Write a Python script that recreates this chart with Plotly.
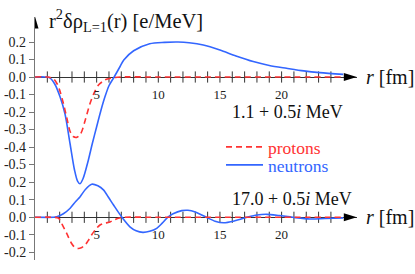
import plotly.graph_objects as go

W, H = 415, 274

# ---------------- data ----------------
# upper panel: 1.1 + 0.5i MeV
r_top_p = [0, 1.0, 1.5, 1.8, 2.0, 2.3, 2.6, 2.84, 3.1, 3.38, 3.6, 3.8, 4.1, 4.47, 4.8, 5.15, 5.5, 5.8, 6.5, 7.0, 10, 15, 20, 25]
top_protons = [0, 0, -0.01, -0.04, -0.075, -0.15, -0.24, -0.31, -0.34, -0.345, -0.335, -0.31, -0.24, -0.15, -0.09, -0.046, -0.025, -0.013, -0.003, 0, 0, 0, 0, 0]

r_top_n = [0, 0.8, 1.2, 1.6, 2.03, 2.43, 2.84, 3.2, 3.45, 3.65, 3.9, 4.33, 4.65, 5.0, 5.35, 5.68, 6.0, 6.42, 6.9, 7.2, 8.0, 9.3, 10.5, 11.6, 12.5, 13.65, 15.0, 16.3, 17.7, 19.0, 20.4, 21.8, 23.1, 25.0]
top_neutrons = [0, 0, -0.005, -0.04, -0.113, -0.21, -0.38, -0.53, -0.595, -0.61, -0.58, -0.474, -0.38, -0.284, -0.19, -0.112, -0.05, 0, 0.06, 0.097, 0.15, 0.19, 0.198, 0.2, 0.196, 0.183, 0.154, 0.12, 0.088, 0.066, 0.05, 0.035, 0.025, 0.015]

# lower panel: 17.0 + 0.5i MeV
r_bot_p = [0, 1.5, 1.9, 2.2, 2.57, 2.97, 3.2, 3.5, 3.8, 4.05, 4.3, 4.6, 4.9, 5.27, 5.7, 6.08, 6.4, 6.76, 7.2, 10, 15, 20, 25]
bot_protons = [0, 0, -0.005, -0.04, -0.092, -0.15, -0.17, -0.178, -0.172, -0.16, -0.135, -0.10, -0.07, -0.044, -0.033, -0.027, -0.015, -0.006, 0, 0, 0, 0, 0]

r_bot_n = [0, 1.5, 1.76, 2.3, 2.85, 3.3, 3.66, 4.1, 4.6, 5.1, 5.55, 6.0, 6.37, 7.05, 7.72, 8.2, 8.75, 9.3, 9.87, 10.3, 10.76, 11.2, 11.9, 12.4, 13.0, 13.9, 14.6, 15.3, 16.2, 17.2, 18.0, 18.8, 19.8, 20.9, 22.3, 23.5, 25.0]
bot_neutrons = [0, 0, 0.003, 0.02, 0.052, 0.09, 0.118, 0.16, 0.189, 0.18, 0.157, 0.11, 0.07, 0, -0.056, -0.077, -0.086, -0.08, -0.063, -0.035, 0, 0.02, 0.038, 0.04, 0.03, 0, -0.022, -0.031, -0.02, 0, 0.013, 0.017, 0.01, 0, -0.01, -0.007, -0.003]

tick_r = list(range(1, 25))
xlabel_vals = [5, 10, 15, 20]
ytick_top = [-0.5, -0.4, -0.3, -0.2, -0.1, 0.0, 0.1, 0.2]
ytick_bot = [-0.2, -0.1, 0.0, 0.1, 0.2]

# ---------------- styling / layout ----------------
RED = "#ff3333"
BLUE = "#3366ff"
AX = "#333333"
YAXC = "#777777"
FONT = "Liberation Serif"


def px_x(p):
    return p / W


def px_y(p):
    return 1 - p / H


X0 = 35.0
XPU = 12.33
x_tip = 26.1
x_end_px = X0 + XPU * x_tip

Y0_top = 77.0
Y0_bot = 217.3
YPU = 175.0
ytop_px = 16.5
ybot_px = 260.0
top_range = [-(ybot_px - Y0_top) / YPU, (Y0_top - ytop_px) / YPU]
shift = (Y0_bot - Y0_top) / YPU
bot_range = [top_range[0] + shift, top_range[1] + shift]

fig = go.Figure()

tick_marker = dict(symbol="line-ns", size=8, line=dict(width=1, color=AX))
fig.add_trace(go.Scatter(x=tick_r, y=[0] * len(tick_r), mode="markers", marker=tick_marker,
                         xaxis="x", yaxis="y", showlegend=False, hoverinfo="skip"))
fig.add_trace(go.Scatter(x=tick_r, y=[0] * len(tick_r), mode="markers", marker=tick_marker,
                         xaxis="x2", yaxis="y2", showlegend=False, hoverinfo="skip"))

fig.add_trace(go.Scatter(x=r_top_n, y=top_neutrons, mode="lines", name="neutrons",
                         line=dict(color=BLUE, width=1.6, shape="spline", smoothing=0.8),
                         xaxis="x", yaxis="y", legend="legend2"))
fig.add_trace(go.Scatter(x=r_top_p, y=top_protons, mode="lines", name="protons",
                         line=dict(color=RED, width=1.6, dash="6px,4px", shape="spline", smoothing=0.8),
                         xaxis="x", yaxis="y", legend="legend"))
fig.add_trace(go.Scatter(x=r_bot_n, y=bot_neutrons, mode="lines", showlegend=False,
                         line=dict(color=BLUE, width=1.6, shape="spline", smoothing=0.8),
                         xaxis="x2", yaxis="y2"))
fig.add_trace(go.Scatter(x=r_bot_p, y=bot_protons, mode="lines", showlegend=False,
                         line=dict(color=RED, width=1.6, dash="6px,4px", shape="spline", smoothing=0.8),
                         xaxis="x2", yaxis="y2"))

xcommon = dict(domain=[px_x(X0), px_x(x_end_px)], range=[0, x_tip], anchor="free",
               tickvals=xlabel_vals, ticktext=[str(v) for v in xlabel_vals],
               ticks="outside", ticklen=5, tickcolor="rgba(0,0,0,0)",
               showgrid=False, zeroline=False, showline=False, automargin=False,
               tickfont=dict(family=FONT, size=13, color="#222"))

ycommon = dict(domain=[px_y(ybot_px), px_y(ytop_px)], anchor="x", side="left",
               ticks="outside", ticklen=5, tickcolor=YAXC, tickwidth=1,
               showgrid=False, zeroline=True, zerolinecolor=AX, zerolinewidth=1,
               automargin=False, tickfont=dict(family=FONT, size=14, color="#222"))

fig.update_layout(
    width=W, height=H, autosize=False,
    margin=dict(l=0, r=0, t=0, b=0, pad=0),
    paper_bgcolor="white", plot_bgcolor="white",
    xaxis=dict(**xcommon, position=px_y(Y0_top)),
    xaxis2=dict(**xcommon, position=px_y(Y0_bot), overlaying="x", matches="x"),
    yaxis=dict(**ycommon, range=top_range, tickvals=ytick_top,
               ticktext=[f"{v:.1f}" for v in ytick_top],
               showline=True, linecolor=YAXC, linewidth=1.2),
    yaxis2=dict(**ycommon, range=bot_range, tickvals=ytick_bot,
                ticktext=[f"{v:.1f}" for v in ytick_bot],
                overlaying="y", showline=False),
    legend=dict(x=px_x(221), y=px_y(147), xanchor="left", yanchor="middle",
                bgcolor="rgba(0,0,0,0)", borderwidth=0, itemwidth=37,
                font=dict(family=FONT, size=17.5, color=RED)),
    legend2=dict(x=px_x(221), y=px_y(165), xanchor="left", yanchor="middle",
                 bgcolor="rgba(0,0,0,0)", borderwidth=0, itemwidth=37,
                 font=dict(family=FONT, size=17.5, color=BLUE)),
    showlegend=True,
)

# axis arrowheads (pixel sized, anchored at axis ends)
arrow_x = "M0,0 L-13,4 L-13,-4 Z"
arrow_y = "M0,0 L-3.5,-12 L3.5,-12 Z"
shapes = [
    dict(type="path", xref="x", yref="y", xsizemode="pixel", ysizemode="pixel",
         xanchor=x_tip, yanchor=0, path=arrow_x, fillcolor="black", line=dict(width=0)),
    dict(type="path", xref="x2", yref="y2", xsizemode="pixel", ysizemode="pixel",
         xanchor=x_tip, yanchor=0, path=arrow_x, fillcolor="black", line=dict(width=0)),
    dict(type="path", xref="x", yref="y", xsizemode="pixel", ysizemode="pixel",
         xanchor=0, yanchor=top_range[1], path=arrow_y, fillcolor="black", line=dict(width=0)),
]
fig.update_layout(shapes=shapes)

ann_font = dict(family=FONT, color="#111")
annotations = [
    dict(text="r<sup>2</sup>δρ<sub>L=1</sub>(r) [e/MeV]", x=px_x(47), y=px_y(21),
         xref="paper", yref="paper", xanchor="left", yanchor="middle", showarrow=False,
         font=dict(**ann_font, size=20.5)),
    dict(text="<i>r</i> [fm]", x=px_x(364), y=px_y(77), xref="paper", yref="paper",
         xanchor="left", yanchor="middle", showarrow=False, font=dict(**ann_font, size=20)),
    dict(text="<i>r</i> [fm]", x=px_x(364), y=px_y(217), xref="paper", yref="paper",
         xanchor="left", yanchor="middle", showarrow=False, font=dict(**ann_font, size=20)),
    dict(text="1.1 + 0.5<i>i</i> MeV", x=px_x(230), y=px_y(111.5), xref="paper", yref="paper",
         xanchor="left", yanchor="middle", showarrow=False, font=dict(**ann_font, size=18)),
    dict(text="17.0 + 0.5<i>i</i> MeV", x=px_x(230), y=px_y(199), xref="paper", yref="paper",
         xanchor="left", yanchor="middle", showarrow=False, font=dict(**ann_font, size=18)),
]
fig.update_layout(annotations=annotations)

fig.write_html("out.html", config={"displayModeBar": False},
               post_script="document.body.style.margin='0px';document.body.style.padding='0px';")
